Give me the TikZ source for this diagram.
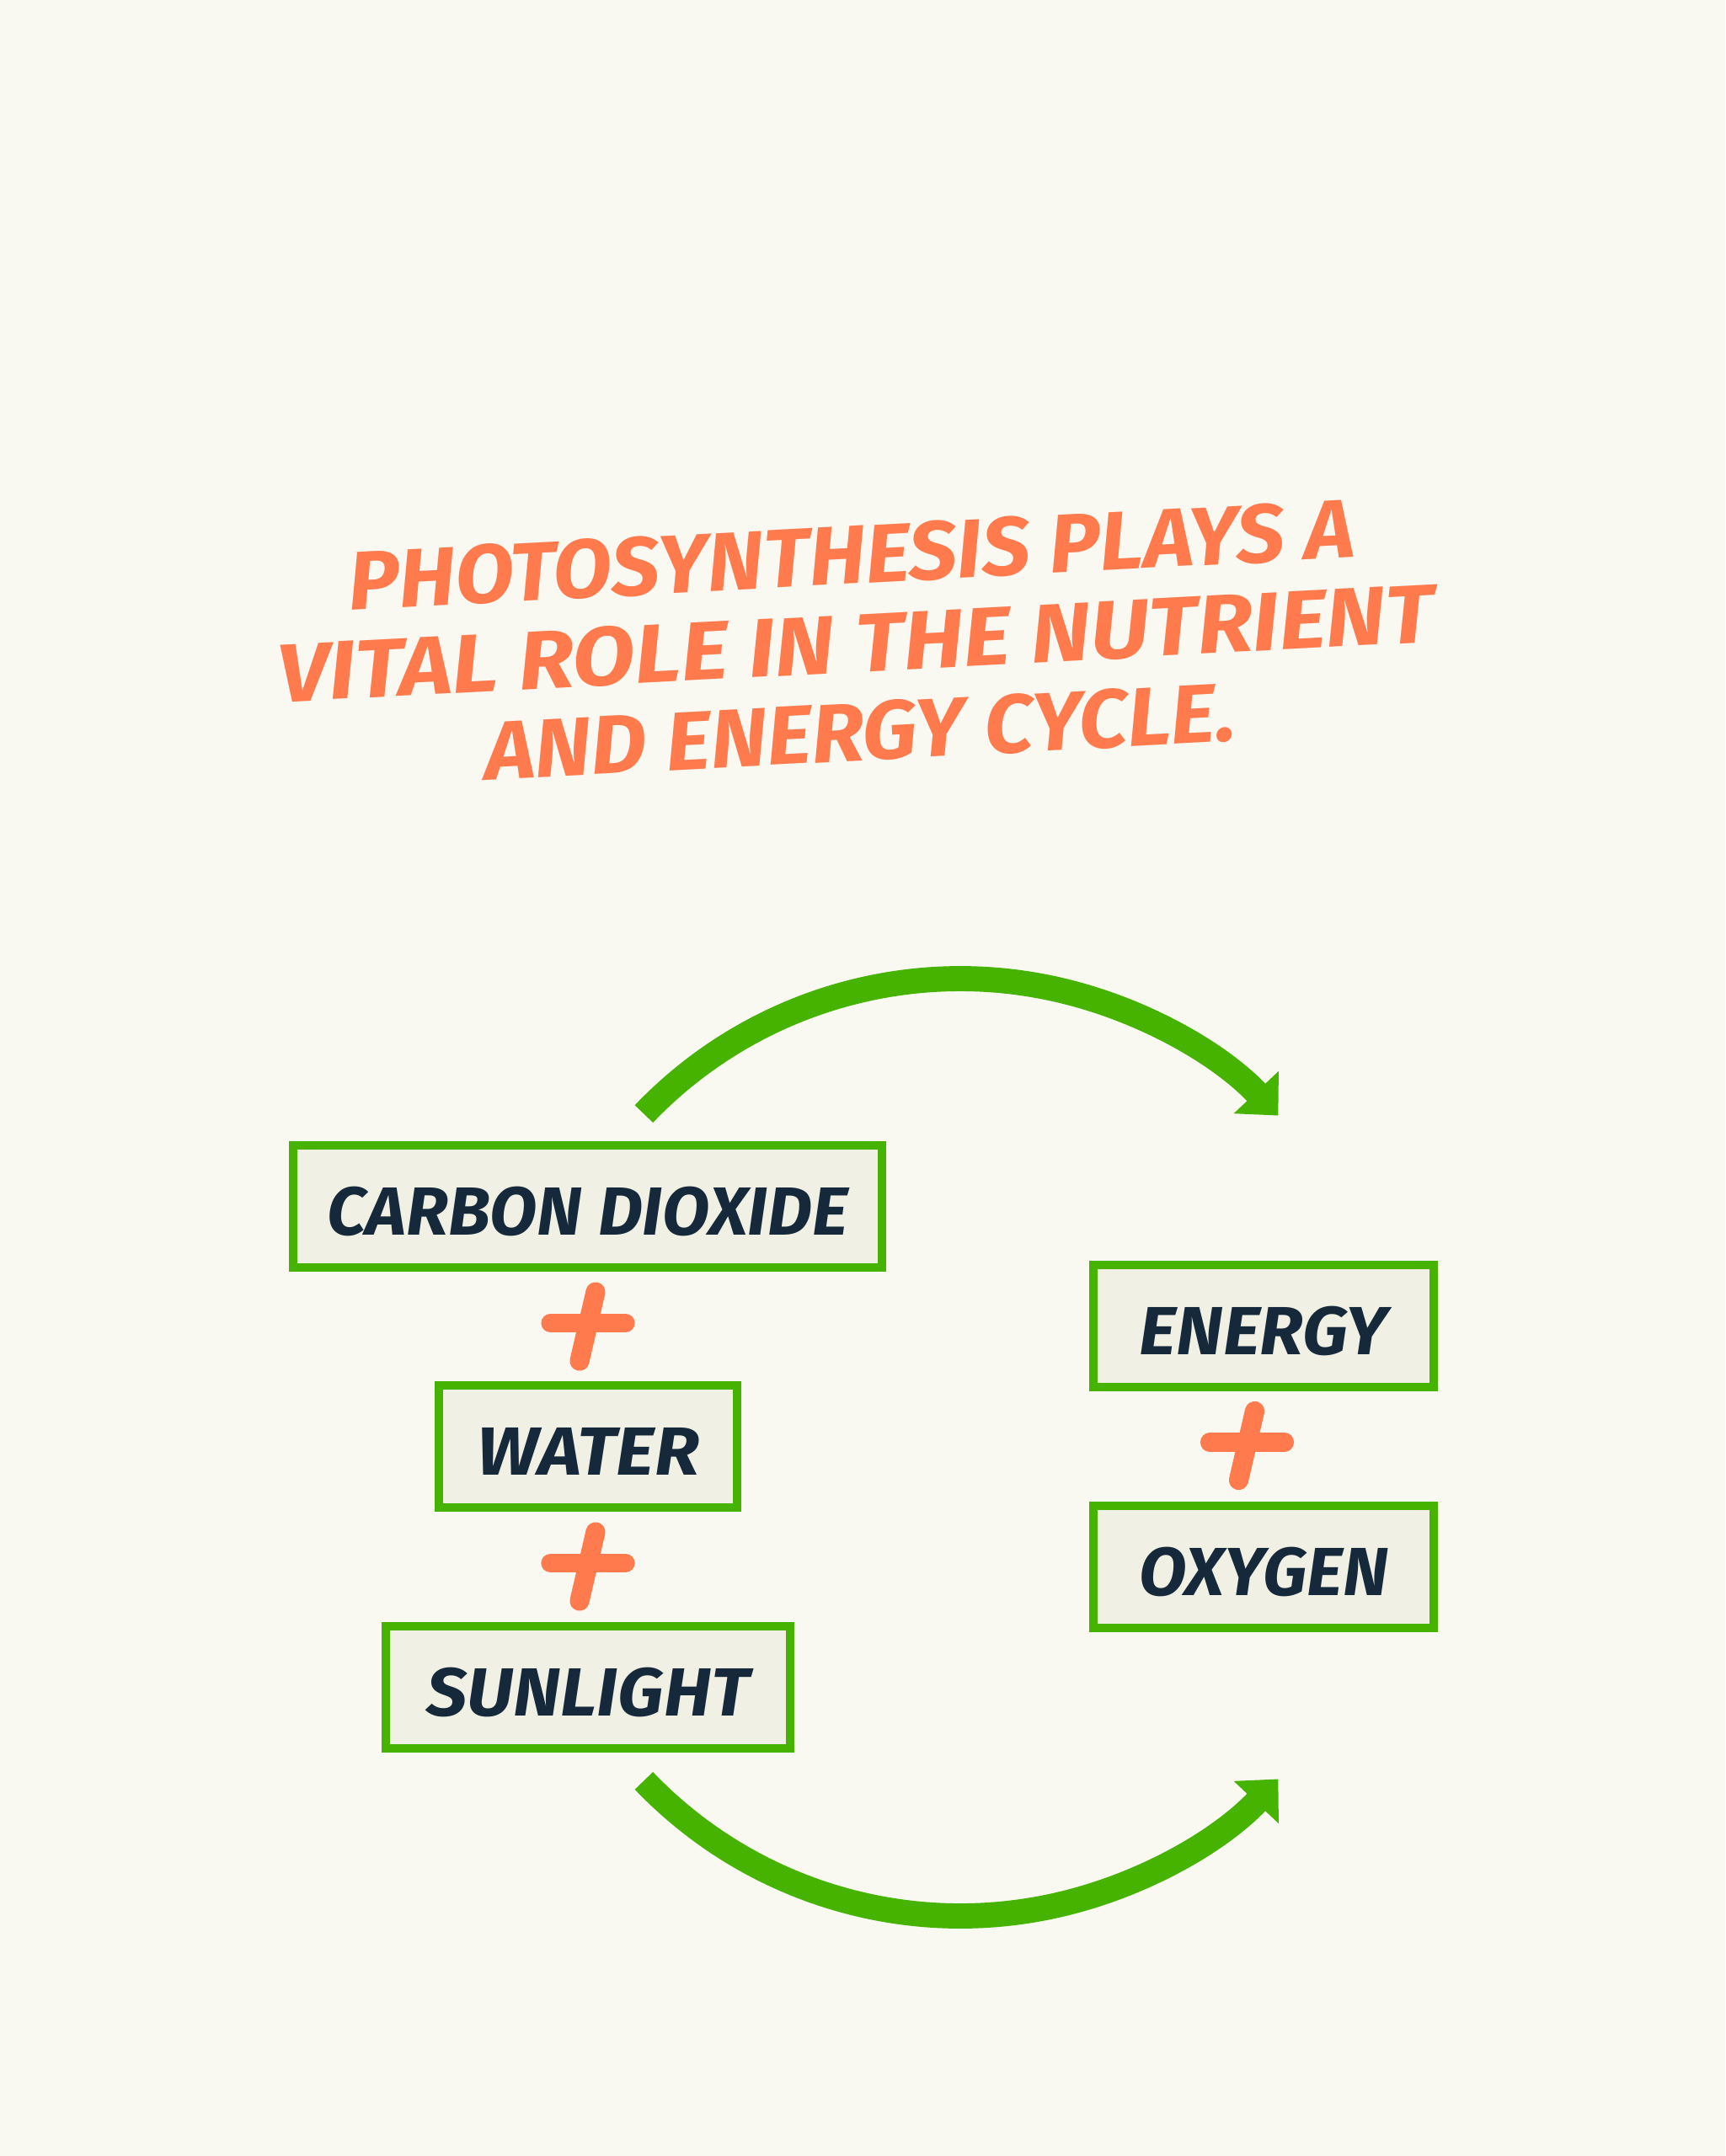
\documentclass[tikz,border=0pt]{standalone}
\usepackage{fontspec}
\usepackage{graphicx}
\setmainfont{Fira Sans}
\usetikzlibrary{arrows.meta}
\definecolor{bg}{HTML}{F9F8F1}
\definecolor{leaf}{HTML}{46B300}
\definecolor{coral}{HTML}{FF7A4D}
\definecolor{ink}{HTML}{16293A}
\definecolor{boxfill}{HTML}{F0F0E5}
\tikzset{
  box/.style={draw=leaf, line width=2.85pt, fill=boxfill, inner sep=0pt,
    minimum height=1.45cm},
  boxtext/.style={text=ink, inner sep=0pt,
    font=\fontsize{23}{27}\selectfont\bfseries\itshape},
  headline/.style={text=coral, inner sep=0pt, rotate=3, align=center,
    font=\fontsize{28}{29.9}\selectfont\bfseries\itshape},
  flow/.style={draw=leaf, line width=8.5pt,
    -{Triangle[width=0.71cm,length=0.38cm]}},
  plusbar/.style={draw=coral, line width=6.3pt, line cap=round},
  plussign/.pic={
    \draw[plusbar] (-0.445,0.02) -- (0.445,0.02);
    \draw[plusbar, line width=6.6pt] (0.09,0.39) -- (-0.10,-0.43);
  }
}
\begin{document}
\begin{tikzpicture}
\fill[bg] (0,0) rectangle (20.48,-25.6);
\useasboundingbox (0,0) rectangle (20.48,-25.6);

% title
\node[headline] (title) at (10.16,-7.64)
  {\scalebox{1.035}[1]{PHOTOSYNTHESIS PLAYS A}\\
   \scalebox{1.10}[1]{VITAL ROLE IN THE NUTRIENT}\\
   \scalebox{1.04}[1]{AND ENERGY CYCLE.}};

% boxes
\node[box, minimum width=6.99cm] (co2) at (6.975,-14.325) {};
\node[boxtext, xscale=1.015] at ([yshift=-0.06cm]co2.center) {CARBON DIOXIDE};
\node[box, minimum width=3.54cm] (water) at (6.98,-17.175) {};
\node[boxtext, xscale=1.08] at ([yshift=-0.06cm]water.center) {WATER};
\node[box, minimum width=4.80cm] (sun) at (6.98,-20.03) {};
\node[boxtext, xscale=1.06] at ([yshift=-0.06cm]sun.center) {SUNLIGHT};
\node[box, minimum width=4.04cm] (energy) at (15.00,-15.745) {};
\node[boxtext, xscale=1.05] at ([yshift=-0.06cm]energy.center) {ENERGY};
\node[box, minimum width=4.04cm] (oxygen) at (15.00,-18.60) {};
\node[boxtext, xscale=1.02] at ([yshift=-0.06cm]oxygen.center) {OXYGEN};

% plus signs
\pic (plus1) at (6.98,-15.73) {plussign};
\pic (plus2) at (6.98,-18.58) {plussign};
\pic (plus3) at (14.805,-17.145) {plussign};

% cycle arrows
\coordinate (a1s) at (7.644,-13.226);
\coordinate (a2s) at (7.644,-21.144);
\draw[flow] (a1s) arc[start angle=136.3, end angle=43.4, radius=5.195];
\draw[flow] (a2s) arc[start angle=-136.3, end angle=-43.4, radius=5.195];
\end{tikzpicture}
\end{document}
